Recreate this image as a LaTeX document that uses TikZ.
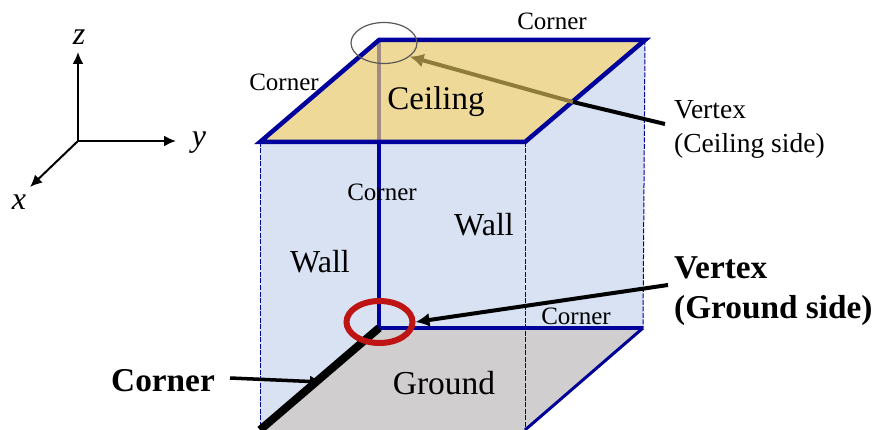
\documentclass[tikz,border=0pt]{standalone}
\usepackage{fontspec}
\setmainfont{Liberation Serif}
\usetikzlibrary{arrows.meta,shapes.geometric}
\definecolor{wallblue}{HTML}{D9E2F3}
\definecolor{ceilfill}{HTML}{EFD998}
\definecolor{groundfill}{HTML}{D0CECE}
\definecolor{edgeblue}{HTML}{00009C}
\definecolor{ringred}{HTML}{BE1414}
\definecolor{tanarrow}{HTML}{8F7C3C}
\definecolor{mutedline}{HTML}{A08C80}
\tikzset{
  small label/.style={font=\fontsize{25}{25}\selectfont, inner sep=0pt},
  mid label/.style={font=\fontsize{32}{32}\selectfont, inner sep=0pt},
  side label/.style={font=\fontsize{27.5}{27.5}\selectfont, inner sep=0pt, anchor=west},
  bold label/.style={font=\fontsize{33.3}{33.3}\selectfont\bfseries, inner sep=0pt},
  axis label/.style={font=\fontsize{32}{32}\selectfont\itshape, inner sep=0pt},
  axis/.style={line width=2pt, -{Latex[length=12pt,width=11pt]}},
  pointer/.style={line width=4pt, -{Latex[length=14pt,width=14pt]}},
  guide/.style={edgeblue, line width=1pt, dash pattern=on 5pt off 1.5pt}
}
\begin{document}
\begin{tikzpicture}[x=1pt,y=-1pt]
\useasboundingbox (0,0) rectangle (875,430);
  \coordinate (ct) at (379,40);
  \coordinate (cr) at (645,40);
  \coordinate (cf) at (525,142);
  \coordinate (cl) at (260,142);
  \coordinate (gt) at (379,328);
  \coordinate (gr) at (643,328);
  \coordinate (gf) at (525,430);
  \coordinate (gl) at (260,430);
  \coordinate (o) at (78,141);
  \coordinate (bend) at (573,102);
  \coordinate (vs) at (665,124);
  \coordinate (gs) at (668,285);
  \coordinate (cs) at (230,378);
  \coordinate (ce) at (322,382);
 % faces
  \fill [wallblue] (cl) -- (ct) -- (cr) -- (gr) -- (gf) -- (gl) -- cycle;
  \fill [groundfill] (gt) -- (gr) -- (gf) -- (gl) -- cycle;
  \draw [guide] (cl) -- (gl);
  \draw [guide] (cf) -- (gf);
  \draw [guide] (cr) -- (gr);
  \draw [edgeblue, line width=4pt] (ct |- cf) -- (gt);
  \fill [ceilfill] (ct) -- (cr) -- (cf) -- (cl) -- cycle;
  \draw [mutedline, line width=3.5pt] (ct) -- (ct |- cf);
  \draw [edgeblue, line width=4.5pt, line join=miter] (ct) -- (cr) -- (cf) -- (cl) -- cycle;
  \draw [edgeblue, line width=3.5pt] (gt) -- (gr);
  \draw [blue!60!black, line width=3pt] (gr) -- (gf);
  \draw [black, line width=8pt] (gt) -- (gl);
 % axes
  \node (z) at (79,37) [axis label] {z};
  \node (y) at (199,143) [axis label] {y};
  \node (x) at (19,202) [axis label] {x};
  \coordinate (zt) at (78,52);
  \coordinate (yt) at (176,141);
  \coordinate (xt) at (30,187);
  \draw [axis] (o) -- (zt);
  \draw [axis] (o) -- (yt);
  \draw [axis] (o) -- (xt);
 % rings
  \node (ceilring) at (384,43) [draw=black!65, line width=1.2pt, ellipse, minimum width=66pt, minimum height=41pt, inner sep=0pt] {};
  \node (groundring) at (379.5,322) [draw=ringred, line width=6pt, ellipse, minimum width=66pt, minimum height=42pt, inner sep=0pt] {};
 % labels
  \node (corner1) at (552,21) [small label] {Corner};
  \node (corner2) at (284,82) [small label] {Corner};
  \node (corner3) at (382,192) [small label] {Corner};
  \node (corner4) at (576,316) [small label] {Corner};
  \node (ceiling) at (436,102) [font=\fontsize{33}{33}\selectfont, inner sep=0pt] {Ceiling};
  \node (wall1) at (320,262) [mid label] {Wall};
  \node (wall2) at (484,225) [mid label] {Wall};
  \node (ground) at (444,383) [font=\fontsize{33.5}{33.5}\selectfont, inner sep=0pt] {Ground};
  \node (cornerb) at (163,381) [bold label] {Corner};
  \node (vertexc) at (674,110) [side label] {Vertex};
  \node (sidec) at (674,146) [side label] {(Ceiling side)};
  \node (vertexg) at (674,268) [bold label, anchor=west] {Vertex};
  \node (sideg) at (674,310) [bold label, anchor=west] {(Ground side)};
 % pointers
  \draw [pointer, tanarrow] (bend) -- (ceilring.-28);
  \draw [line width=4pt] (vs) -- (bend);
  \draw [pointer] (gs) -- (groundring.east);
  \draw [line width=3.5pt, -{Latex[length=12pt,width=12pt]}] (cs) -- (ce);
 \end{tikzpicture}
\end{document}
